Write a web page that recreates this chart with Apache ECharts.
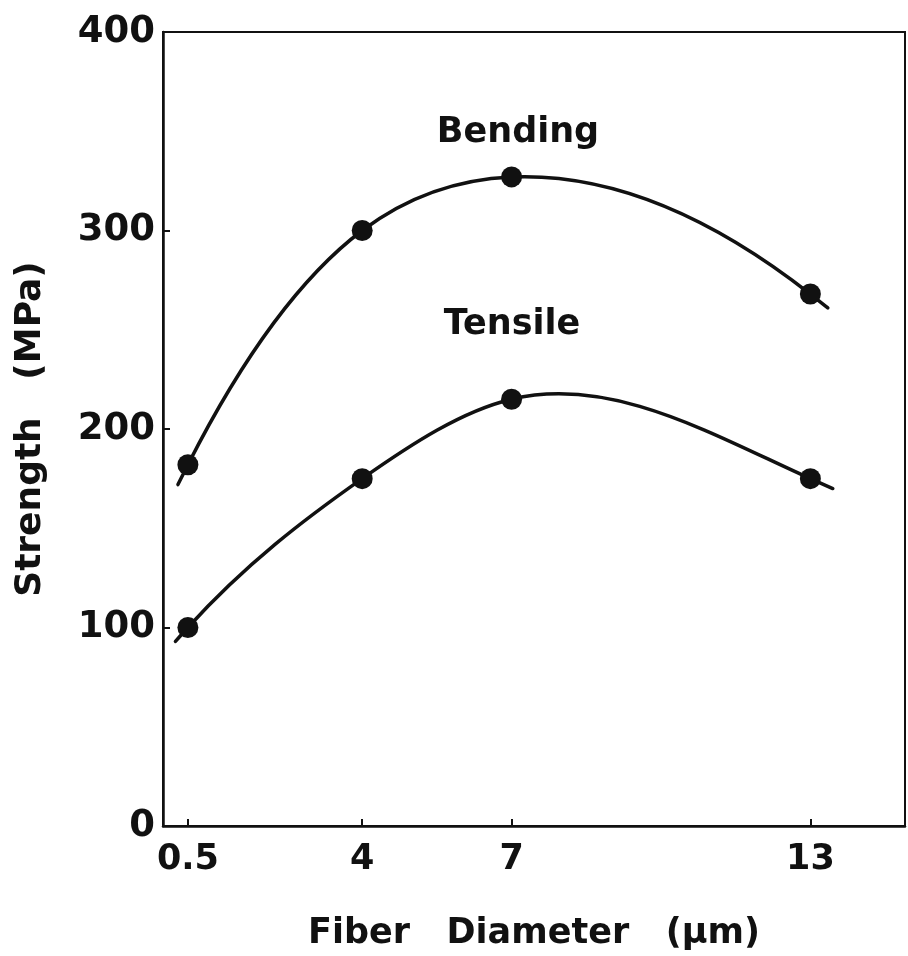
<!DOCTYPE html>
<html>
<head>
<meta charset="utf-8">
<script src="https://cdn.jsdelivr.net/npm/echarts@6/dist/echarts.min.js"></script>
<style>
  html, body { margin: 0; padding: 0; background: #fff; }
  #main { width: 908px; height: 956px; }
</style>
</head>
<body>
<div id="main"></div>
<script>
// fiber diameter (um) and strength (MPa)
var diameters = [0.5, 4, 7, 13];
var bending = [182, 300, 327, 268];
var tensile = [100, 175, 215, 175];
// the hand drawn curves run a little past the first and last points
var bendingStart = [0.3, 172];
var bendingEnd = [13.35, 261];
var tensileStart = [0.25, 93];
var tensileEnd = [13.45, 170];
var xTicks = [0.5, 4, 7, 13];

function pairs(xs, ys) {
	var out = [];
	for (var i = 0; i < xs.length; i++) {
		out.push([xs[i], ys[i]]);
	}
	return out;
}

var bendingPts = pairs(diameters, bending);
var tensilePts = pairs(diameters, tensile);
var bendingCurve = [bendingStart].concat(bendingPts, [bendingEnd]);
var tensileCurve = [tensileStart].concat(tensilePts, [tensileEnd]);

// slopes of a natural cubic spline through the points (used for bezier handles)
function splineSlopes(pts) {
	var n = pts.length, h = [], d = [], i;
	for (i = 0; i < n - 1; i++) {
		h[i] = pts[i + 1][0] - pts[i][0];
		d[i] = (pts[i + 1][1] - pts[i][1]) / h[i];
	}
	var M = new Array(n).fill(0);
	var a = [], b = [], c = [], r = [];
	for (i = 1; i < n - 1; i++) {
		a[i] = h[i - 1];
		b[i] = 2 * (h[i - 1] + h[i]);
		c[i] = h[i];
		r[i] = 6 * (d[i] - d[i - 1]);
	}
	for (i = 2; i < n - 1; i++) {
		var w = a[i] / b[i - 1];
		b[i] -= w * c[i - 1];
		r[i] -= w * r[i - 1];
	}
	for (i = n - 2; i >= 1; i--) {
		M[i] = (r[i] - (i < n - 2 ? c[i] * M[i + 1] : 0)) / b[i];
	}
	var s = [];
	for (i = 0; i < n - 1; i++) {
		s[i] = d[i] - h[i] * (2 * M[i] + M[i + 1]) / 6;
	}
	s[n - 1] = d[n - 2] + h[n - 2] * (M[n - 2] + 2 * M[n - 1]) / 6;
	return s;
}

function curveSeries(pts) {
	var slopes = splineSlopes(pts);
	return {
		type: "custom",
		data: pts,
		renderItem: function(params, api) {
			var i = params.dataIndex;
			if (i >= pts.length - 1) return;
			var p0 = pts[i], p1 = pts[i + 1];
			var h = p1[0] - p0[0];
			var a = api.coord(p0);
			var b = api.coord(p1);
			var c1 = api.coord([p0[0] + h / 3, p0[1] + slopes[i] * h / 3]);
			var c2 = api.coord([p1[0] - h / 3, p1[1] - slopes[i + 1] * h / 3]);
			return {
				type: "bezierCurve",
				shape: { x1: a[0], y1: a[1], x2: b[0], y2: b[1], cpx1: c1[0], cpy1: c1[1], cpx2: c2[0], cpy2: c2[1] },
				style: { stroke: ink, lineWidth: 3.5, fill: null, lineCap: "round" }
			};
		}
	};
}

var font = "DejaVu Sans";
var ink = "#111";

var option = {
	backgroundColor: "#fff",
	animation: false,
	grid: {
		left: 163, right: 3, top: 32, bottom: 128,
		show: true, borderColor: ink, borderWidth: 2
	},
	xAxis: {
		type: "value",
		min: 0,
		max: 14.9,
		name: "Fiber   Diameter   (μm)",
		nameLocation: "middle",
		nameGap: 90,
		nameTextStyle: { fontFamily: font, fontWeight: "bold", fontSize: 35, color: ink },
		axisLine: { show: true, lineStyle: { color: ink, width: 2.5 } },
		axisTick: { show: true, inside: true, length: 7, customValues: xTicks, lineStyle: { color: ink, width: 2 } },
		axisLabel: { customValues: xTicks, margin: 16, fontFamily: font, fontWeight: "bold", fontSize: 35, color: ink },
		splitLine: { show: false }
	},
	yAxis: {
		type: "value",
		min: 0,
		max: 400,
		interval: 100,
		name: "Strength   (MPa)",
		nameLocation: "middle",
		nameGap: 114,
		nameTextStyle: { fontFamily: font, fontWeight: "bold", fontSize: 36, color: ink },
		axisLine: { show: true, lineStyle: { color: ink, width: 2.5 } },
		axisTick: { show: true, inside: true, length: 7, lineStyle: { color: ink, width: 2 } },
		axisLabel: { margin: 8, fontFamily: font, fontWeight: "bold", fontSize: 37, color: ink },
		splitLine: { show: false }
	},
	series: [
		curveSeries(bendingCurve),
		curveSeries(tensileCurve),
		{
			type: "scatter", data: bendingPts, symbol: "circle", symbolSize: 21,
			itemStyle: { color: ink, opacity: 1 }
		},
		{
			type: "scatter", data: tensilePts, symbol: "circle", symbolSize: 21,
			itemStyle: { color: ink, opacity: 1 }
		}
	],
	graphic: [
		{
			type: "text", x: 518, y: 133,
			style: { text: "Bending", fontFamily: font, fontWeight: "bold", fontSize: 35, fill: ink, align: "center", verticalAlign: "middle" }
		},
		{
			type: "text", x: 512, y: 325,
			style: { text: "Tensile", fontFamily: font, fontWeight: "bold", fontSize: 35, fill: ink, align: "center", verticalAlign: "middle" }
		}
	]
};

var myChart = echarts.init(document.getElementById("main"));
myChart.setOption(option);
</script>
</body>
</html>
